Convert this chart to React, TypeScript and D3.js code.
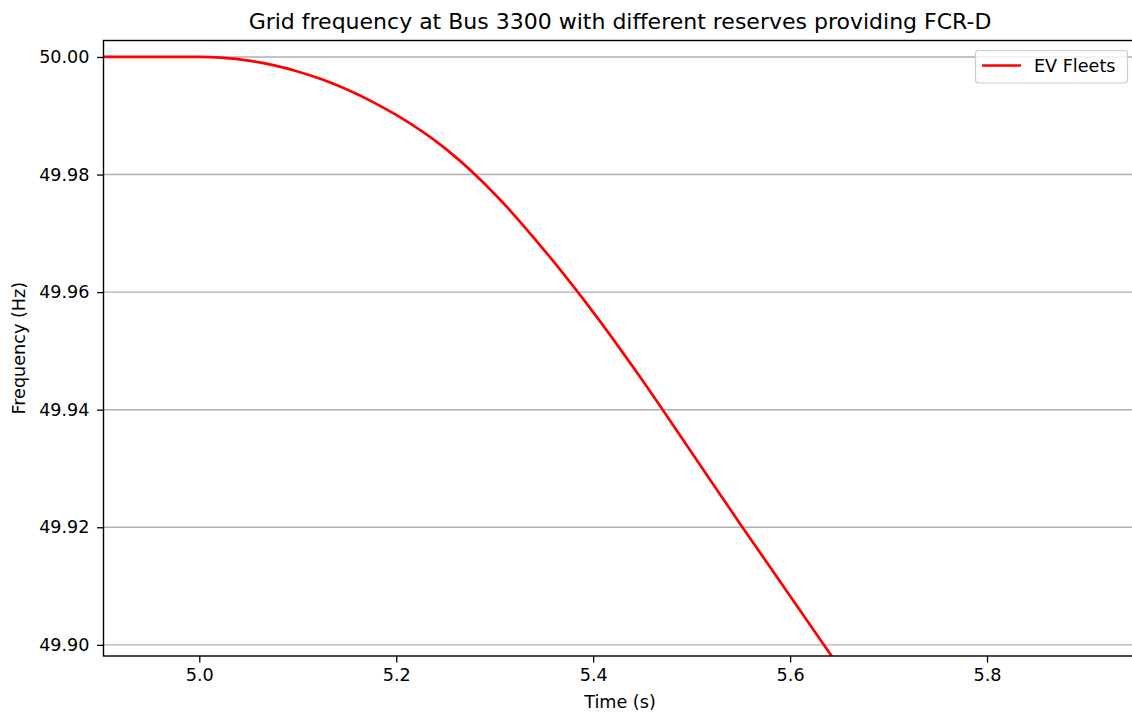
import React, { useEffect, useRef } from 'react';
import * as d3 from 'd3';

// EV Fleets frequency response
const timeS = [4.9, 4.95, 5.0, 5.025, 5.05, 5.075, 5.1, 5.125, 5.15, 5.175, 5.2, 5.25, 5.3, 5.35, 5.4, 5.45, 5.5, 5.55, 5.6, 5.65];
const freqHz = [50.0, 50.0, 50.0, 49.99985, 49.99938, 49.99861, 49.99754, 49.99615, 49.99445, 49.99245, 49.99014, 49.9844, 49.9767, 49.9672, 49.9566, 49.945, 49.9327, 49.9204, 49.9083, 49.8962];
const xTicks = [5.0, 5.2, 5.4, 5.6, 5.8];
const yTicks = [49.9, 49.92, 49.94, 49.96, 49.98, 50.0];

const W = 1132;
const H = 713;
const FONT = "'DejaVu Sans', sans-serif";
const FS = 17.6;

const App: React.FC = () => {
  const svgRef = useRef<SVGSVGElement>(null);

  useEffect(() => {
    if (!svgRef.current) return;
    const svg = d3.select(svgRef.current);
    svg.selectAll("*").remove();

    const m = { left: 103.5, top: 40.5, right: 1136.5, bottom: 656 };

    const x = d3.scaleLinear().domain([4.9027, 5.9518]).range([m.left, m.right]);
    const y = d3.scaleLinear().domain([49.8981, 50.0028]).range([m.bottom, m.top]);

    svg.append("defs").append("clipPath").attr("id", "plot-clip")
      .append("rect")
      .attr("x", m.left).attr("y", m.top)
      .attr("width", m.right - m.left).attr("height", m.bottom - m.top);

    // horizontal grid
    svg.append("g").selectAll("line").data(yTicks).join("line")
      .attr("x1", m.left).attr("x2", m.right)
      .attr("y1", d => y(d)).attr("y2", d => y(d))
      .attr("stroke", "#b0b0b0").attr("stroke-width", 1.4);

    // data line
    const line = d3.line<number>()
      .x((d, i) => x(timeS[i]))
      .y(d => y(d))
      .curve(d3.curveMonotoneX);

    svg.append("path")
      .datum(freqHz)
      .attr("clip-path", "url(#plot-clip)")
      .attr("fill", "none")
      .attr("stroke", "#ff0000")
      .attr("stroke-width", 2.7)
      .attr("d", line);

    // axes
    const xAxis = svg.append("g").attr("transform", `translate(0,${m.bottom})`)
      .call(d3.axisBottom(x).tickValues(xTicks).tickFormat(d3.format(".1f")).tickSizeOuter(0).tickSize(6.5).tickPadding(6.5));
    const yAxis = svg.append("g").attr("transform", `translate(${m.left},0)`)
      .call(d3.axisLeft(y).tickValues(yTicks).tickFormat(d3.format(".2f")).tickSizeOuter(0).tickSize(6.5).tickPadding(7.5));

    [xAxis, yAxis].forEach(a => {
      a.select(".domain").remove();
      a.selectAll("line").attr("stroke", "#000").attr("stroke-width", 1.3);
      a.selectAll("text").attr("font-family", FONT).attr("font-size", FS).attr("fill", "#000");
    });

    // spines
    svg.append("rect")
      .attr("x", m.left).attr("y", m.top)
      .attr("width", m.right - m.left).attr("height", m.bottom - m.top)
      .attr("fill", "none").attr("stroke", "#000").attr("stroke-width", 1.4);

    // title and labels
    svg.append("text")
      .attr("x", (m.left + m.right) / 2).attr("y", 29)
      .attr("text-anchor", "middle")
      .attr("font-family", FONT).attr("font-size", 22)
      .text("Grid frequency at Bus 3300 with different reserves providing FCR-D");

    svg.append("text")
      .attr("x", (m.left + m.right) / 2).attr("y", 708)
      .attr("text-anchor", "middle")
      .attr("font-family", FONT).attr("font-size", FS)
      .text("Time (s)");

    svg.append("text")
      .attr("transform", `translate(25,${(m.top + m.bottom) / 2}) rotate(-90)`)
      .attr("text-anchor", "middle")
      .attr("font-family", FONT).attr("font-size", FS)
      .text("Frequency (Hz)");

    // legend
    const lg = svg.append("g");
    lg.append("rect")
      .attr("x", 975.5).attr("y", 50.5).attr("width", 152).attr("height", 32.5)
      .attr("rx", 3).attr("fill", "#fff").attr("fill-opacity", 0.8)
      .attr("stroke", "#cccccc").attr("stroke-width", 1.2);
    lg.append("line")
      .attr("x1", 982).attr("x2", 1021).attr("y1", 65.5).attr("y2", 65.5)
      .attr("stroke", "#ff0000").attr("stroke-width", 2.7);
    lg.append("text")
      .attr("x", 1034).attr("y", 72)
      .attr("font-family", FONT).attr("font-size", FS)
      .text("EV Fleets");
  }, []);

  return (
    <svg
      ref={svgRef}
      width={W}
      height={H}
      style={{ position: 'absolute', left: 0, top: 0, background: '#fff', overflow: 'hidden' }}
    />
  );
};

export default App;
